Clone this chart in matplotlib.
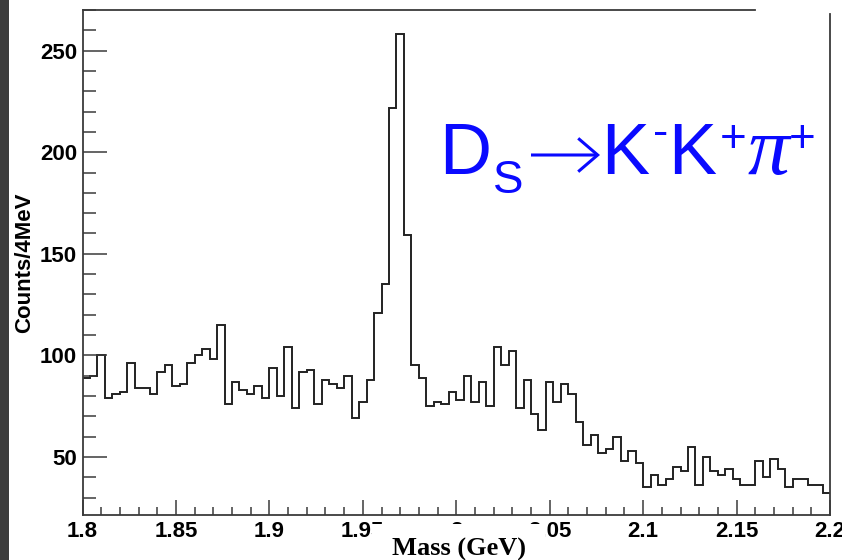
import numpy as np
import matplotlib
matplotlib.use("Agg")
import matplotlib.pyplot as plt
from matplotlib.ticker import MultipleLocator, FixedLocator
from matplotlib.patches import Rectangle, FancyArrowPatch
from matplotlib.lines import Line2D

# ---- data ----
mass_min, mass_max, n_bins = 1.8, 2.2, 100
counts = [
    89, 90, 100, 79, 81, 82, 96, 84, 84, 81, 92, 95, 85, 86, 96, 100, 103, 98, 115, 76, 87, 83, 81, 85, 79,
    94, 80, 104, 74, 92, 93, 76, 88, 86, 84, 90, 69, 77, 88, 121, 135, 222, 258, 159, 95, 89, 75, 77, 76, 82,
    78, 90, 77, 87, 75, 104, 95, 102, 74, 88, 71, 63, 87, 77, 86, 81, 67, 56, 61, 52, 54, 60, 48, 53, 47,
    35, 41, 36, 39, 45, 43, 55, 36, 50, 43, 41, 44, 39, 36, 36, 48, 40, 49, 44, 35, 39, 39, 36, 36, 32,
]
x_ticks = [1.8, 1.85, 1.9, 1.95, 2.0, 2.05, 2.1, 2.15, 2.2]
x_tick_labels = ["1.8", "1.85", "1.9", "1.95", "2", "2.05", "2.1", "2.15", "2.2"]
y_ticks = [50, 100, 150, 200, 250]
x_label = "Mass (GeV)"
y_label = "Counts/4MeV"

W, H = 842, 560
fig = plt.figure(figsize=(W / 100, H / 100), dpi=100)
fig.patch.set_facecolor("white")

def fx(px):
    return px / W

def fy(py):
    return (H - py) / H

ax_l, ax_r, ax_t, ax_b = 82.5, 830, 10, 515
ax = fig.add_axes([fx(ax_l), fy(ax_b), fx(ax_r - ax_l), (ax_b - ax_t) / H])

edges = np.linspace(mass_min, mass_max, n_bins + 1)
ax.stairs(counts, edges, baseline=None, color="#222222", linewidth=1.4)

ax.set_xlim(mass_min, mass_max)
ax.set_ylim(21.4, 270)

line_col = "#3a3a3a"
for s in ("top", "right"):
    ax.spines[s].set_visible(False)
for s in ("left", "bottom"):
    ax.spines[s].set_color(line_col)
    ax.spines[s].set_linewidth(1.3)
# partial top line and right line as in the reference
ax.add_line(Line2D([0, (755 - ax_l) / (ax_r - ax_l)], [1, 1], transform=ax.transAxes,
                   color=line_col, lw=1.3, clip_on=False))
ax.add_line(Line2D([1, 1], [0, (ax_b - 14) / (ax_b - ax_t)], transform=ax.transAxes,
                   color=line_col, lw=1.3, clip_on=False))

ax.xaxis.set_major_locator(FixedLocator(x_ticks))
ax.set_xticklabels(x_tick_labels)
ax.xaxis.set_minor_locator(MultipleLocator(0.01))
ax.yaxis.set_major_locator(FixedLocator(y_ticks))
ax.yaxis.set_minor_locator(MultipleLocator(10))

for lab in ax.get_xticklabels() + ax.get_yticklabels():
    lab.set_fontfamily(["Liberation Sans", "DejaVu Sans"])
    lab.set_fontweight("bold")
    lab.set_fontsize(16)

ax.tick_params(axis="x", which="major", direction="in", length=11, width=1.1, color=line_col, pad=4)
ax.tick_params(axis="x", which="minor", direction="in", length=5.5, width=1.1, color=line_col)
ax.tick_params(axis="y", which="major", direction="in", length=17, width=1.1, color=line_col, pad=4)
ax.tick_params(axis="y", which="minor", direction="in", length=9, width=1.1, color=line_col)
ax.tick_params(top=False, right=False, which="both")

# white title box of the slide that partly hides the middle tick labels
fig.patches.append(Rectangle((fx(372), 0), fx(545 - 372), fy(523.5), transform=fig.transFigure,
                             facecolor="white", edgecolor="none", zorder=5))

fig.text(fx(459), fy(556), x_label, ha="center", va="baseline", zorder=6,
         family=["Liberation Serif", "DejaVu Serif"], weight="bold", size=19)
fig.text(fx(25), fy(263), y_label, ha="center", va="center", rotation=90,
         family=["Liberation Sans", "DejaVu Sans"], weight="bold", size=16)

# left dark strip of the slide
fig.patches.append(Rectangle((0, 0), fx(9), 1, transform=fig.transFigure,
                             facecolor="#3c3c3c", edgecolor="none", zorder=0))

# decay label
blue = "#0a0aff"
sans = ["Liberation Sans", "DejaVu Sans"]
big = 52
sup = 33
fig.text(fx(439), fy(174), "D", color=blue, family=sans, size=big, va="baseline")
fig.text(fx(493), fy(193), "S", color=blue, family=sans, size=sup, va="baseline")
fig.patches.append(FancyArrowPatch((fx(531), fy(155)), (fx(600), fy(155)),
                                   transform=fig.transFigure, color=blue, lw=2.2,
                                   arrowstyle="->,head_length=14,head_width=12",
                                   mutation_scale=1, shrinkA=0, shrinkB=0,
                                   joinstyle="miter", capstyle="butt"))
fig.text(fx(601), fy(174), "K", color=blue, family=sans, size=big, va="baseline")
fig.text(fx(653), fy(146), "-", color=blue, family=sans, size=sup, va="baseline")
fig.text(fx(668), fy(174), "K", color=blue, family=sans, size=big, va="baseline")
fig.text(fx(720), fy(152), "+", color=blue, family=sans, size=sup, va="baseline")
fig.text(fx(748), fy(174), "\u03c0", color=blue, family=["Liberation Serif", "DejaVu Serif"],
         style="italic", size=60, va="baseline")
fig.text(fx(789), fy(152), "+", color=blue, family=sans, size=sup, va="baseline")

fig.savefig("out.png", dpi=100)
